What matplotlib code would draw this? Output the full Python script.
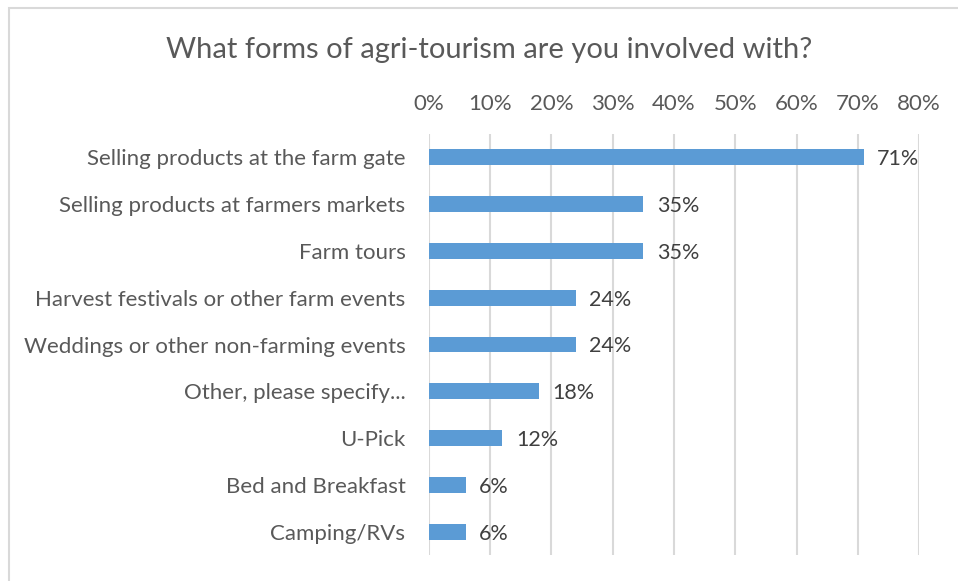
import matplotlib.pyplot as plt
from matplotlib.patches import Rectangle
from matplotlib.ticker import FuncFormatter

plt.rcParams['font.family'] = ['Lato', 'DejaVu Sans']

# survey answers, top to bottom
categories = [
    'Selling products at the farm gate',
    'Selling products at farmers markets',
    'Farm tours',
    'Harvest festivals or other farm events',
    'Weddings or other non-farming events',
    'Other, please specify...',
    'U-Pick',
    'Bed and Breakfast',
    'Camping/RVs',
]
percent = [71, 35, 35, 24, 24, 18, 12, 6, 6]
x_ticks = [0, 10, 20, 30, 40, 50, 60, 70, 80]

bar_color = '#5B9BD5'
text_color = '#595959'
grid_color = '#D9D9D9'

fig = plt.figure(figsize=(9.58, 5.81), dpi=100)
ax = fig.add_axes([0.4478, 0.0441, 0.5115, 0.7259])

# chart area frame (only the top and left edges fall inside the image)
fig.patches.append(Rectangle((9 / 958, -0.1), 1.2, 1.1 - 8 / 581,
                             transform=fig.transFigure, fill=False,
                             edgecolor=grid_color, linewidth=1.5))

y = list(range(len(categories)))
ax.barh(y, percent, height=0.34, color=bar_color, zorder=3)
for yi, v in zip(y, percent):
    ax.text(v + 2.2, yi + 0.04, f'{v}%', va='center', ha='left',
            fontsize=15.5, color='#404040')

ax.set_ylim(len(categories) - 0.5, -0.5)
ax.set_yticks(y)
ax.set_yticklabels(categories, fontsize=16, color=text_color)
ax.tick_params(axis='y', length=0, pad=17)

ax.set_xlim(0, 80)
ax.set_xticks(x_ticks)
ax.xaxis.set_major_formatter(FuncFormatter(lambda v, _: f'{v:.0f}%'))
ax.xaxis.tick_top()
ax.tick_params(axis='x', length=0, pad=14, labelsize=16, labelcolor=text_color)
ax.grid(axis='x', color=grid_color, linewidth=1.5, zorder=0)

for side in ax.spines.values():
    side.set_visible(False)

fig.text(489 / 958, 1 - 50 / 581, 'What forms of agri-tourism are you involved with?',
         ha='center', va='center', fontsize=21, color=text_color)

fig.savefig('out.png', dpi=100)
